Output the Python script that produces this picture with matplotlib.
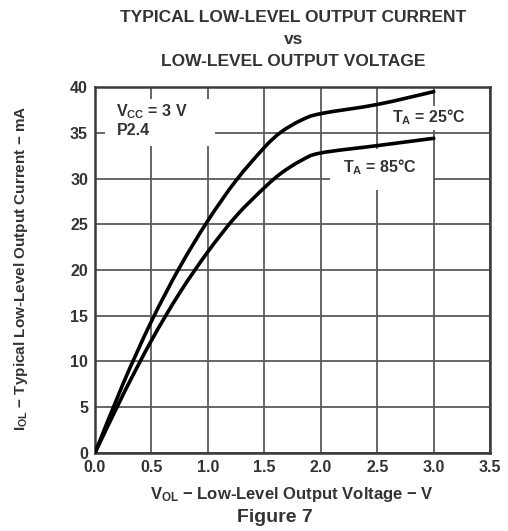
import matplotlib
matplotlib.use("Agg")
import matplotlib.pyplot as plt
from matplotlib.patches import Rectangle, PathPatch
from matplotlib.path import Path

plt.rcParams['font.family'] = ['Liberation Sans', 'DejaVu Sans']
plt.rcParams['mathtext.fontset'] = 'custom'
plt.rcParams['mathtext.rm'] = 'Liberation Sans:bold'
plt.rcParams['mathtext.it'] = 'Liberation Sans:bold'
plt.rcParams['mathtext.bf'] = 'Liberation Sans:bold'

# Data
vol_25c = [0, 0.25, 0.5, 0.75, 1.0, 1.25, 1.5, 1.65, 1.83, 2.0, 2.5, 3.0]
iol_25c = [0, 7.6, 14.4, 20.3, 25.4, 29.8, 33.4, 35.1, 36.4, 37.1, 38.1, 39.5]
vol_85c = [0, 0.25, 0.5, 0.75, 1.0, 1.25, 1.5, 1.65, 1.83, 2.0, 2.5, 3.0]
iol_85c = [0, 6.4, 12.3, 17.5, 22.0, 25.9, 29.0, 30.6, 32.0, 32.8, 33.6, 34.4]
xticks = [0.0, 0.5, 1.0, 1.5, 2.0, 2.5, 3.0, 3.5]
yticks = [0, 5, 10, 15, 20, 25, 30, 35, 40]

TXT = '#333333'


def smooth_path(xs, ys):
    """Catmull-Rom curve through the data points, as cubic Bezier segments."""
    pts = list(zip(xs, ys))
    verts = [pts[0]]
    codes = [Path.MOVETO]
    n = len(pts)
    for i in range(n - 1):
        p0 = pts[i - 1] if i > 0 else pts[i]
        p1 = pts[i]
        p2 = pts[i + 1]
        p3 = pts[i + 2] if i + 2 < n else pts[i + 1]
        c1 = (p1[0] + (p2[0] - p0[0]) / 6, p1[1] + (p2[1] - p0[1]) / 6)
        c2 = (p2[0] - (p3[0] - p1[0]) / 6, p2[1] - (p3[1] - p1[1]) / 6)
        verts += [c1, c2, p2]
        codes += [Path.CURVE4] * 3
    return Path(verts, codes)


fig = plt.figure(figsize=(5.08, 5.31), dpi=100)
ax = fig.add_axes([0.187, 0.147, 0.778, 0.689])

ax.set_xlim(0, 3.5)
ax.set_ylim(0, 40)
ax.set_xticks(xticks)
ax.set_xticklabels([f'{t:.1f}' for t in xticks])
ax.set_yticks(yticks)
ax.tick_params(length=0, labelsize=11.5, labelcolor=TXT, pad=5)
for lab in ax.get_xticklabels() + ax.get_yticklabels():
    lab.set_fontweight('bold')
ax.grid(True, color='#5a5a5a', lw=1.3, zorder=1)
ax.set_axisbelow(True)
for s in ax.spines.values():
    s.set_color('#3a3a3a')
    s.set_linewidth(1.8)

# white boxes behind annotations
ax.add_patch(Rectangle((0.09, 33.6), 0.97, 5.1, facecolor='white', edgecolor='none', zorder=1.5))
ax.add_patch(Rectangle((2.08, 28.8), 0.91, 4.4, facecolor='white', edgecolor='none', zorder=1.5))
ax.add_patch(Rectangle((2.55, 35.3), 0.85, 2.6, facecolor='white', edgecolor='none', zorder=1.5))

for xs, ys in ((vol_25c, iol_25c), (vol_85c, iol_85c)):
    ax.add_patch(PathPatch(smooth_path(xs, ys), facecolor='none', edgecolor='black', lw=2.6,
                           capstyle='round', joinstyle='round', zorder=3))

ax.text(0.19, 37.3, r'V$_{\mathrm{CC}}$ = 3 V', fontsize=11.5, fontweight='bold', color=TXT, zorder=2, va='center')
ax.text(0.19, 35.3, 'P2.4', fontsize=11.5, fontweight='bold', color=TXT, zorder=2, va='center')
ax.text(2.63, 36.7, r'T$_{\mathrm{A}}$ = 25°C', fontsize=11.5, fontweight='bold', color=TXT, zorder=2, va='center')
ax.text(2.2, 31.2, r'T$_{\mathrm{A}}$ = 85°C', fontsize=11.5, fontweight='bold', color=TXT, zorder=2, va='center')

fig.text(0.575, 1 - 494 / 531, r'V$_{\mathrm{OL}}$ − Low-Level Output Voltage − V', ha='center', va='center',
         fontsize=12, fontweight='bold', color=TXT)
fig.text(21 / 508, 1 - 268 / 531, r'I$_{\mathrm{OL}}$ − Typical Low-Level Output Current − mA', ha='center', va='center',
         rotation=90, fontsize=11, fontweight='bold', color=TXT)

fig.text(0.578, 1 - 17 / 531, 'TYPICAL LOW-LEVEL OUTPUT CURRENT', ha='center', va='center', fontsize=12.5, fontweight='bold', color=TXT)
fig.text(0.578, 1 - 40 / 531, 'vs', ha='center', va='center', fontsize=12.5, fontweight='bold', color=TXT)
fig.text(0.578, 1 - 62 / 531, 'LOW-LEVEL OUTPUT VOLTAGE', ha='center', va='center', fontsize=12.5, fontweight='bold', color=TXT)
fig.text(0.541, 1 - 518 / 531, 'Figure 7', ha='center', va='center', fontsize=14, fontweight='bold', color=TXT)

fig.savefig('out.png', dpi=100)
